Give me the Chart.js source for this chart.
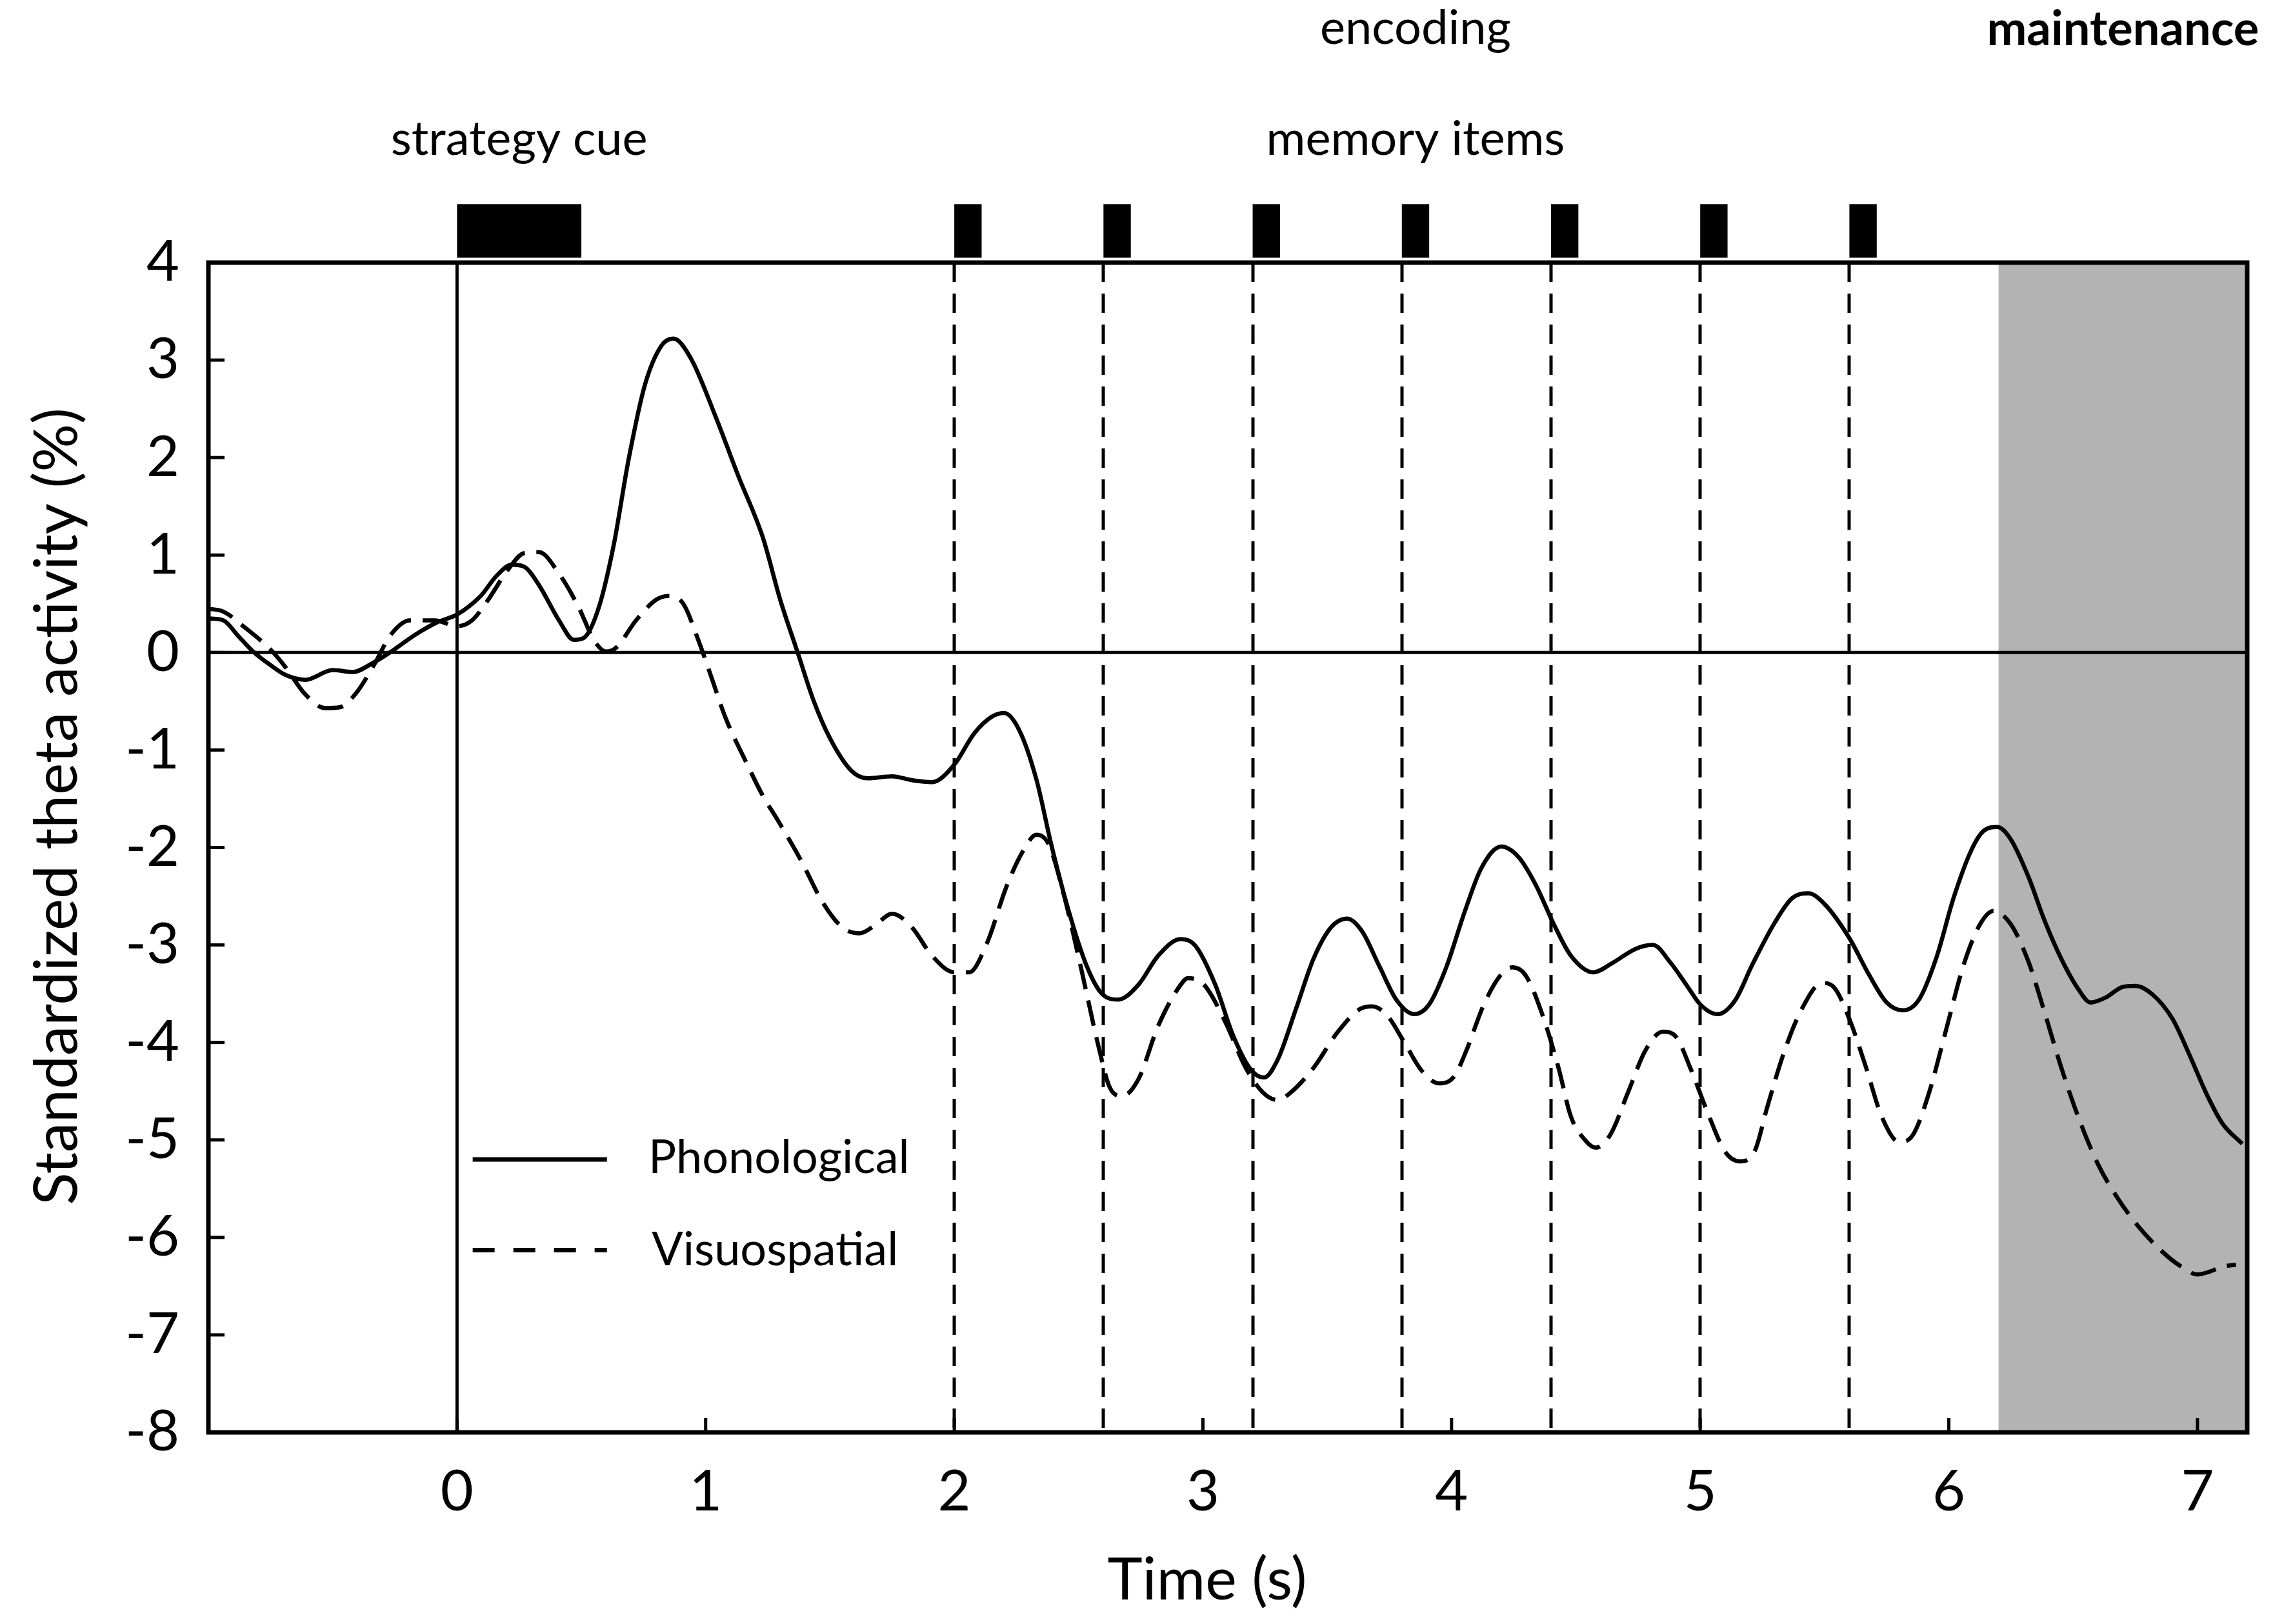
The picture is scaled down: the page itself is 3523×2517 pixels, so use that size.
<!DOCTYPE html>
<html><head><meta charset="utf-8">
<script src="https://cdn.jsdelivr.net/npm/chart.js@4.4.1/dist/chart.umd.min.js"></script>
<style>html,body{margin:0;padding:0;background:#fff;overflow:hidden}canvas{display:block}</style>
</head><body>
<canvas id="c" width="3523" height="2517"></canvas>
<script>
// ---------- data ----------
const seriesNames = ['Phonological', 'Visuospatial'];

const phonoTime = [-1.0,-0.94,-0.88,-0.82,-0.75,-0.69,-0.61,-0.50,-0.42,-0.34,-0.27,-0.17,-0.08,0.0,0.095,0.16,0.22,0.27,0.33,0.41,0.47,0.51,0.57,0.63,0.69,0.755,0.82,0.87,0.94,1.04,1.13,1.23,1.30,1.37,1.435,1.50,1.585,1.65,1.75,1.83,1.91,2.0,2.08,2.15,2.20,2.26,2.33,2.39,2.46,2.53,2.59,2.66,2.74,2.82,2.91,2.97,3.05,3.12,3.19,3.245,3.30,3.375,3.445,3.515,3.58,3.64,3.71,3.78,3.85,3.91,3.98,4.05,4.12,4.20,4.27,4.34,4.41,4.48,4.57,4.65,4.74,4.81,4.88,4.95,5.00,5.07,5.14,5.21,5.30,5.37,5.435,5.50,5.60,5.68,5.75,5.815,5.88,5.95,6.02,6.09,6.14,6.195,6.25,6.32,6.385,6.45,6.52,6.57,6.63,6.70,6.75,6.82,6.90,6.97,7.035,7.10,7.18];
const phonoValue = [0.35,0.33,0.17,0.01,-0.13,-0.23,-0.28,-0.18,-0.20,-0.11,0.0,0.18,0.31,0.39,0.58,0.79,0.90,0.88,0.69,0.33,0.13,0.15,0.46,1.10,1.98,2.74,3.14,3.22,3.02,2.42,1.82,1.18,0.54,0.0,-0.50,-0.88,-1.21,-1.29,-1.27,-1.31,-1.33,-1.15,-0.83,-0.66,-0.62,-0.79,-1.30,-1.97,-2.65,-3.20,-3.49,-3.56,-3.41,-3.11,-2.94,-3.01,-3.41,-3.92,-4.27,-4.36,-4.18,-3.65,-3.14,-2.82,-2.73,-2.86,-3.22,-3.57,-3.71,-3.61,-3.22,-2.68,-2.21,-1.99,-2.10,-2.39,-2.78,-3.11,-3.28,-3.18,-3.04,-3.00,-3.18,-3.43,-3.61,-3.71,-3.57,-3.20,-2.77,-2.52,-2.47,-2.58,-2.93,-3.31,-3.59,-3.67,-3.56,-3.13,-2.51,-2.03,-1.83,-1.79,-1.92,-2.30,-2.75,-3.13,-3.45,-3.59,-3.54,-3.43,-3.42,-3.51,-3.76,-4.14,-4.52,-4.83,-5.04];

const visuoTime = [-1.0,-0.94,-0.85,-0.75,-0.69,-0.61,-0.53,-0.47,-0.41,-0.33,-0.27,-0.19,-0.09,0.0,0.06,0.125,0.205,0.27,0.33,0.41,0.49,0.55,0.60,0.64,0.72,0.80,0.85,0.91,0.97,1.02,1.08,1.16,1.23,1.29,1.385,1.47,1.55,1.62,1.68,1.75,1.83,1.91,2.0,2.06,2.13,2.21,2.28,2.33,2.38,2.44,2.51,2.58,2.625,2.675,2.74,2.82,2.91,2.94,3.005,3.09,3.17,3.24,3.30,3.35,3.445,3.54,3.63,3.68,3.74,3.81,3.88,3.95,4.01,4.06,4.13,4.20,4.245,4.30,4.37,4.43,4.48,4.54,4.58,4.64,4.71,4.78,4.85,4.905,4.96,5.03,5.10,5.16,5.22,5.27,5.34,5.41,5.49,5.54,5.60,5.665,5.73,5.80,5.855,5.92,5.99,6.06,6.125,6.18,6.25,6.32,6.385,6.45,6.52,6.60,6.68,6.76,6.86,6.935,7.0,7.05,7.10,7.155];
const visuoValue = [0.45,0.42,0.25,0.03,-0.15,-0.43,-0.57,-0.56,-0.43,-0.11,0.17,0.33,0.33,0.27,0.33,0.54,0.85,1.02,1.03,0.81,0.46,0.13,0.01,0.05,0.33,0.54,0.58,0.50,0.13,-0.23,-0.67,-1.11,-1.47,-1.72,-2.14,-2.56,-2.82,-2.88,-2.80,-2.68,-2.82,-3.11,-3.28,-3.28,-2.99,-2.40,-2.02,-1.87,-1.97,-2.48,-3.24,-4.04,-4.46,-4.55,-4.38,-3.83,-3.41,-3.34,-3.41,-3.79,-4.25,-4.51,-4.59,-4.52,-4.26,-3.90,-3.66,-3.63,-3.72,-4.00,-4.29,-4.42,-4.35,-4.08,-3.61,-3.30,-3.23,-3.32,-3.75,-4.26,-4.76,-5.01,-5.08,-4.94,-4.51,-4.08,-3.89,-3.95,-4.26,-4.72,-5.12,-5.22,-5.11,-4.66,-4.08,-3.65,-3.39,-3.44,-3.76,-4.24,-4.76,-5.02,-4.95,-4.52,-3.86,-3.20,-2.79,-2.65,-2.79,-3.17,-3.69,-4.24,-4.76,-5.25,-5.60,-5.88,-6.15,-6.30,-6.38,-6.35,-6.30,-6.28];

const xTickValues = [0, 1, 2, 3, 4, 5, 6, 7];
const yTickValues = [4, 3, 2, 1, 0, -1, -2, -3, -4, -5, -6, -7, -8];
const xRange = [-1, 7.2];
const yRange = [-8, 4];

const cueInterval = [0, 0.5];
const itemOnsets = [2.0, 2.6, 3.2, 3.8, 4.4, 5.0, 5.6];
const itemDuration = 0.11;
const maintenanceInterval = [6.2, 7.2];
const stimulusBarRange = [4.05, 4.6];   // in y units, above the frame

const phaseNames = { cue: 'strategy cue', items: 'memory items', encoding: 'encoding', maintenance: 'maintenance' };
const axisTitles = { x: 'Time (s)', y: 'Standardized theta activity (%)' };

// ---------- styles ----------
const FONT = 'Lato';
const INK = '#000';
const GREY = '#b3b3b3';

const overlay = {
  id: 'overlay',
  beforeDatasetsDraw(chart) {
    const { ctx, chartArea: a, scales: { x, y } } = chart;
    ctx.save();
    const g0 = x.getPixelForValue(maintenanceInterval[0]);
    const g1 = x.getPixelForValue(maintenanceInterval[1]);
    ctx.fillStyle = GREY;
    ctx.fillRect(g0, a.top, g1 - g0, a.bottom - a.top);
    ctx.strokeStyle = INK;
    ctx.lineWidth = 5;
    ctx.setLineDash([30, 18]);
    for (const t of itemOnsets) {
      const px = Math.round(x.getPixelForValue(t));
      ctx.beginPath(); ctx.moveTo(px, a.top); ctx.lineTo(px, a.bottom); ctx.stroke();
    }
    ctx.setLineDash([]);
    ctx.lineWidth = 5;
    const x0 = x.getPixelForValue(0), y0 = y.getPixelForValue(0);
    ctx.beginPath(); ctx.moveTo(x0, a.top); ctx.lineTo(x0, a.bottom); ctx.stroke();
    ctx.beginPath(); ctx.moveTo(a.left, y0); ctx.lineTo(a.right, y0); ctx.stroke();
    ctx.restore();
  },
  afterDatasetsDraw(chart) {
    const { ctx, chartArea: a, scales: { x, y } } = chart;
    ctx.save();
    ctx.strokeStyle = INK; ctx.fillStyle = INK;
    ctx.lineWidth = 7;
    ctx.strokeRect(a.left, a.top, a.right - a.left, a.bottom - a.top);
    ctx.lineWidth = 5;
    for (const v of yTickValues) {
      const py = y.getPixelForValue(v);
      ctx.beginPath(); ctx.moveTo(a.left, py); ctx.lineTo(a.left + 25, py); ctx.stroke();
    }
    for (const v of xTickValues) {
      const px = x.getPixelForValue(v);
      ctx.beginPath(); ctx.moveTo(px, a.bottom); ctx.lineTo(px, a.bottom - 22); ctx.stroke();
    }
    const bTop = y.getPixelForValue(stimulusBarRange[1]);
    const bBot = y.getPixelForValue(stimulusBarRange[0]);
    const c0 = x.getPixelForValue(cueInterval[0]), c1 = x.getPixelForValue(cueInterval[1]);
    ctx.fillRect(c0, bTop, c1 - c0, bBot - bTop);
    for (const t of itemOnsets) {
      const p0 = x.getPixelForValue(t), p1 = x.getPixelForValue(t + itemDuration);
      ctx.fillRect(p0, bTop, p1 - p0, bBot - bTop);
    }
    ctx.textAlign = 'center'; ctx.textBaseline = 'alphabetic';
    ctx.font = `74px ${FONT}`;
    const cueMid = x.getPixelForValue((cueInterval[0] + cueInterval[1]) / 2);
    const itemMid = x.getPixelForValue((itemOnsets[0] + itemOnsets[itemOnsets.length - 1] + itemDuration) / 2);
    const maintMid = x.getPixelForValue((maintenanceInterval[0] + maintenanceInterval[1]) / 2);
    ctx.fillText(phaseNames.cue, cueMid, 240);
    ctx.fillText(phaseNames.items, itemMid, 240);
    ctx.fillText(phaseNames.encoding, itemMid, 68);
    ctx.font = `bold 74px ${FONT}`;
    ctx.fillText(phaseNames.maintenance, maintMid, 70);
    const lx0 = x.getPixelForValue(0.063), lx1 = x.getPixelForValue(0.603);
    const ly = [y.getPixelForValue(-5.2), y.getPixelForValue(-6.13)];
    ctx.lineWidth = 7;
    ctx.beginPath(); ctx.moveTo(lx0, ly[0]); ctx.lineTo(lx1, ly[0]); ctx.stroke();
    ctx.setLineDash([34, 29]);
    ctx.beginPath(); ctx.moveTo(lx0, ly[1]); ctx.lineTo(lx1, ly[1]); ctx.stroke();
    ctx.setLineDash([]);
    ctx.font = `72px ${FONT}`;
    ctx.textAlign = 'left'; ctx.textBaseline = 'alphabetic';
    ctx.fillText(seriesNames[0], 1005, ly[0] + 21);
    ctx.fillText(seriesNames[1], 1010, ly[1] + 24);
    ctx.font = `92px ${FONT}`;
    ctx.textAlign = 'center';
    ctx.fillText(axisTitles.x, 1871, 2479);
    ctx.save();
    ctx.translate(119, 1250);
    ctx.rotate(-Math.PI / 2);
    ctx.font = `93px ${FONT}`;
    ctx.fillText(axisTitles.y, 0, 0);
    ctx.restore();
    ctx.restore();
  }
};

const toPoints = (ts, vs) => ts.map((t, i) => ({ x: t, y: vs[i] }));

new Chart(document.getElementById('c'), {
  type: 'line',
  data: {
    datasets: [
      { label: seriesNames[0], data: toPoints(phonoTime, phonoValue), borderColor: INK, borderWidth: 6.5,
        pointRadius: 0, cubicInterpolationMode: 'monotone', fill: false },
      { label: seriesNames[1], data: toPoints(visuoTime, visuoValue), borderColor: INK, borderWidth: 6.5,
        borderDash: [40, 18], pointRadius: 0, cubicInterpolationMode: 'monotone', fill: false }
    ]
  },
  options: {
    responsive: false, animation: false, devicePixelRatio: 1,
    layout: { padding: { top: 407, right: 40, left: 0, bottom: 0 } },
    plugins: { legend: { display: false }, tooltip: { enabled: false } },
    scales: {
      x: {
        type: 'linear', min: xRange[0], max: xRange[1],
        grid: { display: false, drawTicks: false }, border: { display: false },
        afterBuildTicks: s => { s.ticks = xTickValues.map(v => ({ value: v })); },
        afterFit: s => { s.height = 297; },
        ticks: { font: { family: FONT, size: 88 }, color: INK, padding: 40, maxRotation: 0, autoSkip: false,
                 callback: v => String(v) }
      },
      y: {
        type: 'linear', min: yRange[0], max: yRange[1],
        grid: { display: false, drawTicks: false }, border: { display: false },
        afterBuildTicks: s => { s.ticks = yTickValues.slice().reverse().map(v => ({ value: v })); },
        afterFit: s => { s.width = 323; },
        ticks: { font: { family: FONT, size: 88 }, color: INK, padding: 45, autoSkip: false,
                 callback: v => String(v) }
      }
    }
  },
  plugins: [overlay]
});
</script>
</body></html>
